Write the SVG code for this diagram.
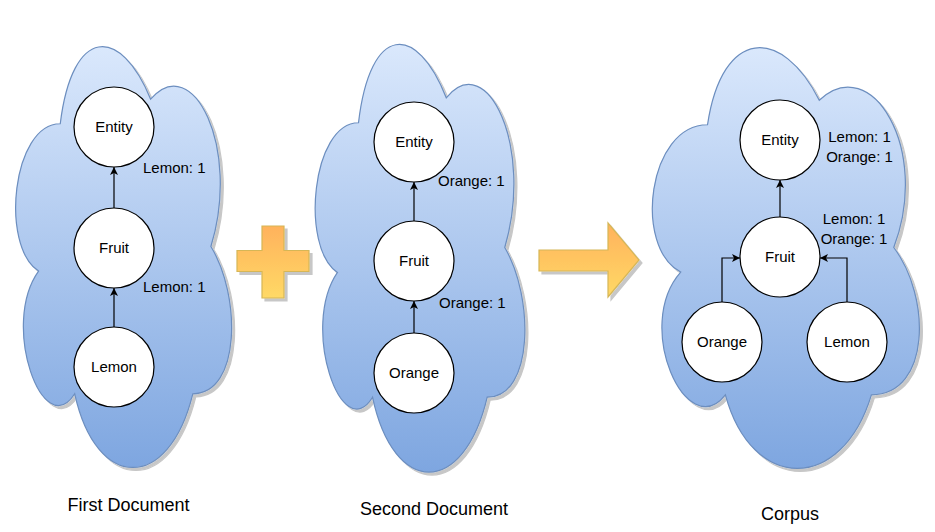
<svg xmlns="http://www.w3.org/2000/svg" width="935" height="532" viewBox="0 0 935 532">
<defs>
<linearGradient id="blue" x1="0" y1="0" x2="0" y2="1">
<stop offset="0" stop-color="#dae8fc"/>
<stop offset="1" stop-color="#7ea6e0"/>
</linearGradient>
<linearGradient id="orange" x1="0" y1="0" x2="0" y2="1">
<stop offset="0" stop-color="#ffb25c"/>
<stop offset="1" stop-color="#ffd966"/>
</linearGradient>
<filter id="shadow" x="-10%" y="-10%" width="130%" height="130%">
<feDropShadow dx="3" dy="3" stdDeviation="0.7" flood-color="#000" flood-opacity="0.22"/>
</filter>
<marker id="arr" viewBox="0 0 8 8" refX="8" refY="4" markerWidth="8" markerHeight="8" markerUnits="userSpaceOnUse" orient="auto">
<path d="M0,0 L8,4 L0,8 L2,4 Z" fill="#000"/>
</marker>
</defs>
<style>
.cloud{fill:url(#blue);stroke:#6c8ebf;stroke-width:1.2;filter:url(#shadow)}
.op{fill:url(#orange);stroke:#d6b656;stroke-width:1.2;filter:url(#shadow)}
.node{fill:#fff;stroke:#000;stroke-width:1.2}
.lbl{font-family:"Liberation Sans",Arial,sans-serif;font-size:15px;fill:#000;text-anchor:middle}
.el{font-family:"Liberation Sans",Arial,sans-serif;font-size:15px;fill:#000}
.cap{font-family:"Liberation Sans",Arial,sans-serif;font-size:18px;fill:#000;text-anchor:middle}
.edge{fill:none;stroke:#000;stroke-width:1.2;marker-end:url(#arr)}
</style>

<g id="cloud1">
<path class="cloud" d="M60.25,123.75 C12.05,123.75 0,246.5 38.56,271.05 C0,325.06 43.38,442.9 74.71,393.8 C96.4,492 168.7,492 192.8,393.8 C241,393.8 241,295.6 210.88,246.5 C241,148.3 192.8,50.1 150.63,99.2 C120.5,25.55 72.3,25.55 60.25,123.75 Z"/>
</g>
<g id="cloud2">
<path class="cloud" d="M358.5,122.75 C311.7,122.75 300,247.5 337.44,272.45 C300,327.34 342.12,447.1 372.54,397.2 C393.6,497 463.8,497 487.2,397.2 C534,397.2 534,297.4 504.75,247.5 C534,147.7 487.2,47.9 446.25,97.8 C417,22.95 370.2,22.95 358.5,122.75 Z"/>
</g>
<g id="cloud3">
<path class="cloud" d="M707.5,124.75 C647.9,124.75 633,247.5 680.68,272.05 C633,326.06 686.64,443.9 725.38,394.8 C752.2,493 841.6,493 871.4,394.8 C931,394.8 931,296.6 893.75,247.5 C931,149.3 871.4,51.1 819.25,100.2 C782,26.55 722.4,26.55 707.5,124.75 Z"/>
</g>

<g id="plus">
<path class="op" d="M262,226 H284 V250.5 H309 V271.5 H284 V298 H262 V271.5 H237 V250.5 H262 Z"/>
</g>
<g id="bigarrow">
<path class="op" d="M539,250 H608 V223 L639,260 L608,297 V271 H539 Z"/>
</g>

<g id="connectors">
<path class="edge" d="M114,208 V167"/>
<path class="edge" d="M114,327 V288"/>
<path class="edge" d="M414,221 V182"/>
<path class="edge" d="M414,333 V301"/>
<path class="edge" d="M780,217 V180"/>
<path class="edge" d="M722,302 V258 H740"/>
<path class="edge" d="M847,302 V258 H820"/>
</g>

<g id="d1-entity"><circle class="node" cx="114" cy="127" r="40"/><text class="lbl" x="114" y="132">Entity</text></g>
<g id="d1-fruit"><circle class="node" cx="114" cy="248" r="40"/><text class="lbl" x="114" y="253">Fruit</text></g>
<g id="d1-lemon"><circle class="node" cx="114" cy="367" r="40"/><text class="lbl" x="114" y="372">Lemon</text></g>

<g id="d2-entity"><circle class="node" cx="414" cy="142" r="40"/><text class="lbl" x="414" y="147">Entity</text></g>
<g id="d2-fruit"><circle class="node" cx="414" cy="261" r="40"/><text class="lbl" x="414" y="266">Fruit</text></g>
<g id="d2-orange"><circle class="node" cx="414" cy="373" r="40"/><text class="lbl" x="414" y="378">Orange</text></g>

<g id="c-entity"><circle class="node" cx="780" cy="140" r="40"/><text class="lbl" x="780" y="145">Entity</text></g>
<g id="c-fruit"><circle class="node" cx="780" cy="257" r="40"/><text class="lbl" x="780" y="262">Fruit</text></g>
<g id="c-orange"><circle class="node" cx="722" cy="342" r="40"/><text class="lbl" x="722" y="347">Orange</text></g>
<g id="c-lemon"><circle class="node" cx="847" cy="342" r="40"/><text class="lbl" x="847" y="347">Lemon</text></g>

<g id="edge-labels">
<text class="el" x="143" y="172.5">Lemon: 1</text>
<text class="el" x="143" y="291.5">Lemon: 1</text>
<text class="el" x="438" y="185.5">Orange: 1</text>
<text class="el" x="439" y="307.5">Orange: 1</text>
<text class="lbl" x="859.5" y="141.5">Lemon: 1</text>
<text class="lbl" x="859.5" y="161.5">Orange: 1</text>
<text class="lbl" x="854" y="223.5">Lemon: 1</text>
<text class="lbl" x="854" y="243.5">Orange: 1</text>
</g>

<g id="captions">
<text class="cap" x="128.5" y="511">First Document</text>
<text class="cap" x="434" y="515">Second Document</text>
<text class="cap" x="790" y="520">Corpus</text>
</g>
</svg>
